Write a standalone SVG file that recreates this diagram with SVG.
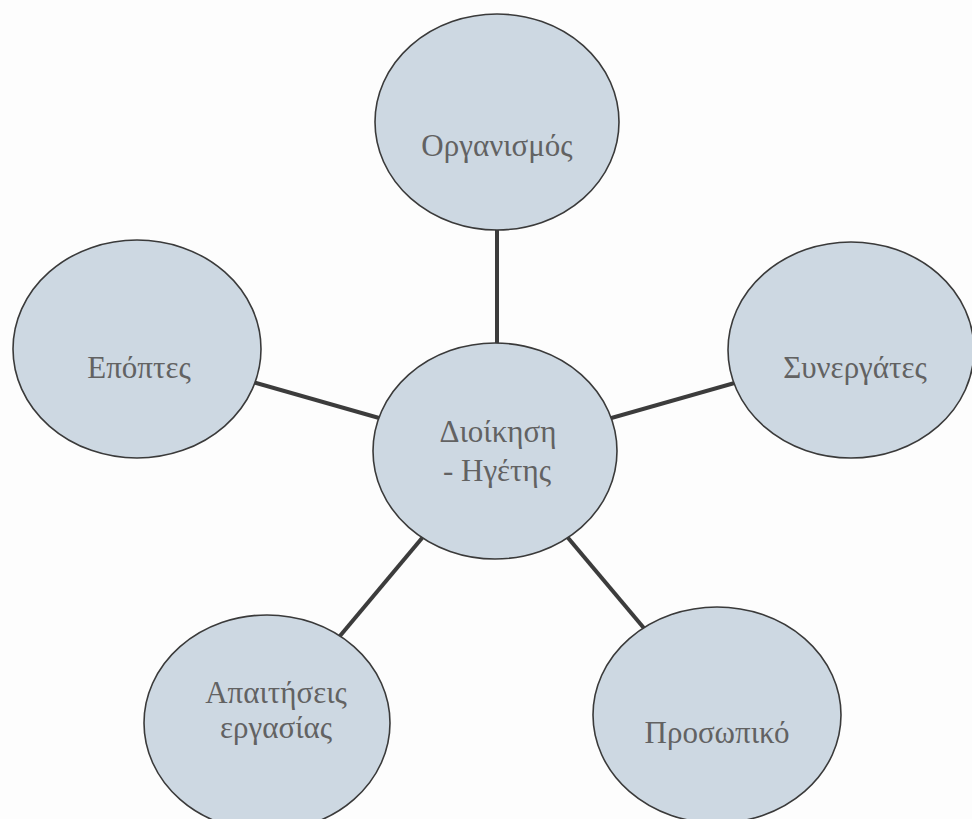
<svg xmlns="http://www.w3.org/2000/svg" width="972" height="819" viewBox="0 0 972 819">
<style>
.node ellipse { fill: #cdd8e2; stroke: #3a3a3a; stroke-width: 1.6; }
.node text { font-family: "Liberation Serif", "DejaVu Serif", serif; font-size: 31px; fill: #626262; text-anchor: middle; }
.conn line { stroke: #3c3c3c; stroke-width: 4; }
</style>
<rect width="972" height="819" fill="#fdfdfd"/>
<g id="connectors" class="conn">
<line x1="497" y1="122" x2="497" y2="451"/>
<line x1="137" y1="349" x2="495" y2="451"/>
<line x1="851" y1="350" x2="495" y2="451"/>
<line x1="267" y1="723" x2="495" y2="451"/>
<line x1="717" y1="715" x2="495" y2="451"/>
</g>
<g id="organismos" class="node">
<ellipse cx="497" cy="122" rx="122" ry="108"/>
<text x="497" y="156">Οργανισμός</text>
</g>
<g id="epoptes" class="node">
<ellipse cx="137" cy="349" rx="124" ry="109"/>
<text x="139" y="378">Επόπτες</text>
</g>
<g id="synergates" class="node">
<ellipse cx="851" cy="350" rx="123" ry="108"/>
<text x="855" y="378">Συνεργάτες</text>
</g>
<g id="dioikisi" class="node">
<ellipse cx="495" cy="451" rx="122" ry="108"/>
<text x="498" y="442">Διοίκηση</text>
<text x="497" y="481">- Ηγέτης</text>
</g>
<g id="apaitiseis" class="node">
<ellipse cx="267" cy="723" rx="123" ry="108"/>
<text x="276" y="703">Απαιτήσεις</text>
<text x="276" y="738">εργασίας</text>
</g>
<g id="prosopiko" class="node">
<ellipse cx="717" cy="715" rx="124" ry="108"/>
<text x="717" y="743">Προσωπικό</text>
</g>
</svg>
